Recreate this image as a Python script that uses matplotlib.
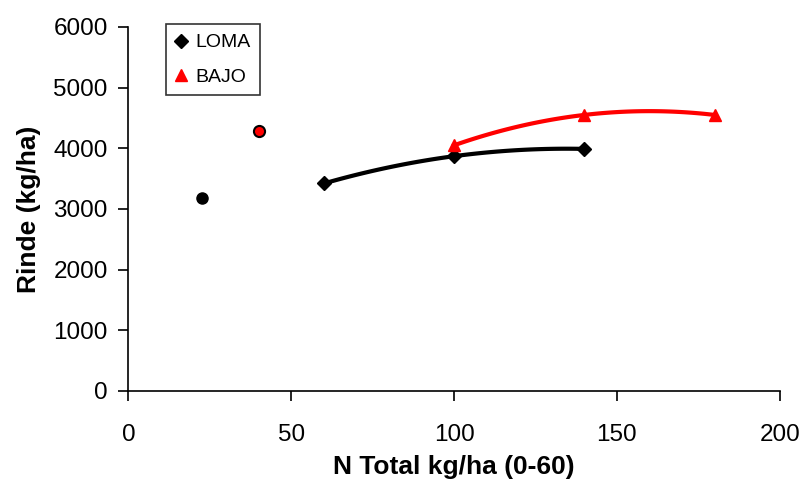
import numpy as np
import matplotlib
matplotlib.use('Agg')
import matplotlib.pyplot as plt

plt.rcParams['font.family'] = ['Liberation Sans', 'DejaVu Sans']

# LOMA series (diamonds + 2nd order trend)
loma_n = [60, 100, 140]
loma_rinde = [3420, 3870, 3990]

# BAJO series (triangles + 2nd order trend)
bajo_n = [100, 140, 180]
bajo_rinde = [4050, 4550, 4550]

# isolated points
extra_black = (22.5, 3175)
extra_red = (40, 4290)

fig = plt.figure(figsize=(8.03, 4.82), dpi=100)
ax = fig.add_axes([0.16, 0.189, 0.811, 0.755])

# trend lines
for xs, ys, c in [(loma_n, loma_rinde, 'black'), (bajo_n, bajo_rinde, '#ff0000')]:
    coef = np.polyfit(xs, ys, 2)
    xx = np.linspace(min(xs), max(xs), 100)
    ax.plot(xx, np.polyval(coef, xx), color=c, lw=3, zorder=2)

ax.plot(loma_n, loma_rinde, 'D', color='black', ms=7.5, ls='none', zorder=3, label='LOMA')
ax.plot(bajo_n, bajo_rinde, '^', color='#ff0000', ms=8.5, ls='none', zorder=3, label='BAJO')
ax.plot(*extra_black, 'o', color='black', ms=8, zorder=3)
ax.plot(*extra_red, 'o', mfc='#ff0000', mec='black', mew=1.5, ms=8, zorder=3)

ax.set_xlim(0, 200)
ax.set_ylim(0, 6000)
ax.set_xticks(np.arange(0, 201, 50))
ax.set_yticks(np.arange(0, 6001, 1000))
for s in ['top', 'right']:
    ax.spines[s].set_visible(False)
for s in ['left', 'bottom']:
    ax.spines[s].set_linewidth(1.2)
ax.tick_params(direction='out', length=7, width=1.2, labelsize=17.5)
ax.tick_params(axis='y', pad=8)
ax.tick_params(axis='x', pad=17)

ax.set_xlabel('N Total kg/ha (0-60)', fontsize=19, fontweight='bold', labelpad=6)
ax.set_ylabel('Rinde (kg/ha)', fontsize=19, fontweight='bold', labelpad=9)

leg = ax.legend(loc='upper left', bbox_to_anchor=(0.058, 1.008), fontsize=14,
                frameon=True, fancybox=False, edgecolor='black',
                handlelength=0.5, handletextpad=0.5, labelspacing=0.85,
                borderpad=0.5, borderaxespad=0)
leg.get_frame().set_linewidth(1.2)

fig.savefig('out.png', dpi=100)
